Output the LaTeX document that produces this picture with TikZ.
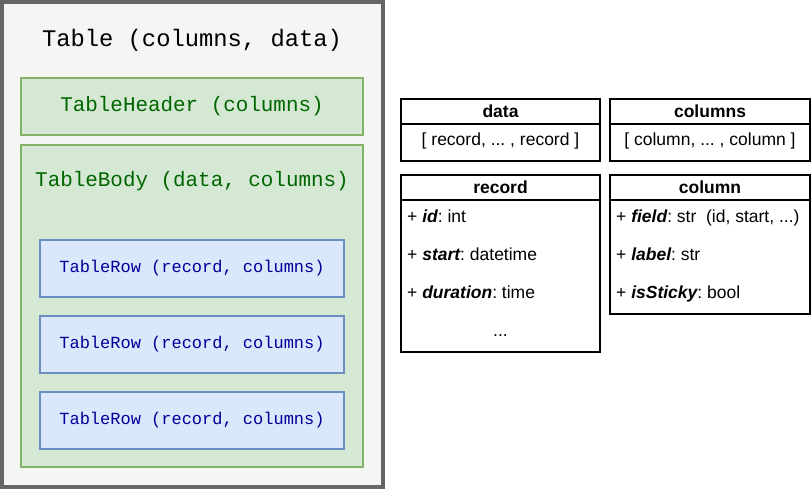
\documentclass[tikz,border=0pt]{standalone}
\usepackage{fontspec}
\setmainfont{Liberation Sans}
\newfontfamily\monofont{Liberation Mono}
\definecolor{tblgray}{HTML}{666666}
\definecolor{tblfill}{HTML}{F5F5F5}
\definecolor{grnline}{HTML}{82B366}
\definecolor{grnfill}{HTML}{D5E8D4}
\definecolor{grntext}{HTML}{006600}
\definecolor{bluline}{HTML}{6C8EBF}
\definecolor{blufill}{HTML}{DAE8FC}
\definecolor{blutext}{HTML}{000099}
\frenchspacing
\begin{document}
\begin{tikzpicture}[
  x=1pt,
  y=-1pt,
  line join=miter,
  box/.style={
    rectangle,
    anchor=north west,
    inner sep=0pt,
    outer sep=0pt
  },
  greenbox/.style={
    box,
    draw=grnline,
    fill=grnfill,
    line width=2.5pt
  },
  rowbox/.style={
    box,
    draw=bluline,
    fill=blufill,
    line width=2.5pt,
    minimum width=304pt,
    minimum height=57pt,
    text=blutext,
    font=\monofont\fontsize{17}{20}\selectfont
  },
  classbox/.style={
    box,
    draw=black,
    line width=2.5pt
  },
  classname/.style={
    font=\fontsize{17.5}{20}\bfseries\selectfont
  },
  attr/.style={
    anchor=west,
    inner sep=0pt,
    text height=13pt,
    text depth=4pt,
    font=\fontsize{17.5}{20}\selectfont
  }
]
  \useasboundingbox (0,0) rectangle (812,490);

  % Table
  \node[box, draw=tblgray, fill=tblfill, line width=4pt,
    minimum width=381pt, minimum height=485pt] (table) at (2,2) {};
  \node[font=\monofont\fontsize{23.8}{26}\selectfont] (tabletitle)
    at (192,40) {Table (columns, data)};

  % TableHeader
  \node[greenbox, minimum width=342pt, minimum height=57pt,
    text=grntext, font=\monofont\fontsize{20.9}{24}\selectfont]
    (header) at (21,78) {TableHeader (columns)};

  % TableBody
  \node[greenbox, minimum width=342pt, minimum height=322pt]
    (body) at (21,145) {};
  \node[text=grntext, font=\monofont\fontsize{20.9}{22}\selectfont]
    (bodytitle) at (192,181) {TableBody (data, columns)};

  % TableRow
  \foreach \y [count=\i] in {240,316,392}
    \node[rowbox] (row\i) at (40,\y) {TableRow (record, columns)};

  % data
  \node[classbox, minimum width=199pt, minimum height=62pt]
    (data) at (401,99) {};
  \draw[line width=2.5pt]
    ([yshift=-25pt]data.north west) -- ([yshift=-25pt]data.north east);
  \node[classname] (dataname) at (500.5,111) {data};
  \node[attr, anchor=center] (datalist) at (500.5,141)
    {[ record, ... , record ]};

  % columns
  \node[classbox, minimum width=200pt, minimum height=62pt]
    (columns) at (610,99) {};
  \draw[line width=2.5pt]
    ([yshift=-25pt]columns.north west) -- ([yshift=-25pt]columns.north east);
  \node[classname] (columnsname) at (710,111) {columns};
  \node[attr, anchor=center] (columnslist) at (710,141)
    {[ column, ... , column ]};

  % record
  \node[classbox, minimum width=199pt, minimum height=177pt]
    (record) at (401,175) {};
  \draw[line width=2.5pt]
    ([yshift=-25pt]record.north west) -- ([yshift=-25pt]record.north east);
  \node[classname] (recordname) at (500.5,187) {record};
  \node[attr] (recid) at (407,218) {+ {\bfseries\itshape id}: int};
  \node[attr] (recstart) at (407,256) {+ {\bfseries\itshape start}: datetime};
  \node[attr] (recdur) at (407,294) {+ {\bfseries\itshape duration}: time};
  \node[attr, anchor=center] (recmore) at (500.5,332) {...};

  % column
  \node[classbox, minimum width=200pt, minimum height=139pt]
    (column) at (610,175) {};
  \draw[line width=2.5pt]
    ([yshift=-25pt]column.north west) -- ([yshift=-25pt]column.north east);
  \node[classname] (columnname) at (710,187) {column};
  \node[attr] (colfield) at (616,218)
    {+ {\bfseries\itshape field}: str\ \ (id, start, ...)};
  \node[attr] (collabel) at (616,256) {+ {\bfseries\itshape label}: str};
  \node[attr] (colsticky) at (616,294) {+ {\bfseries\itshape isSticky}: bool};
\end{tikzpicture}
\end{document}
